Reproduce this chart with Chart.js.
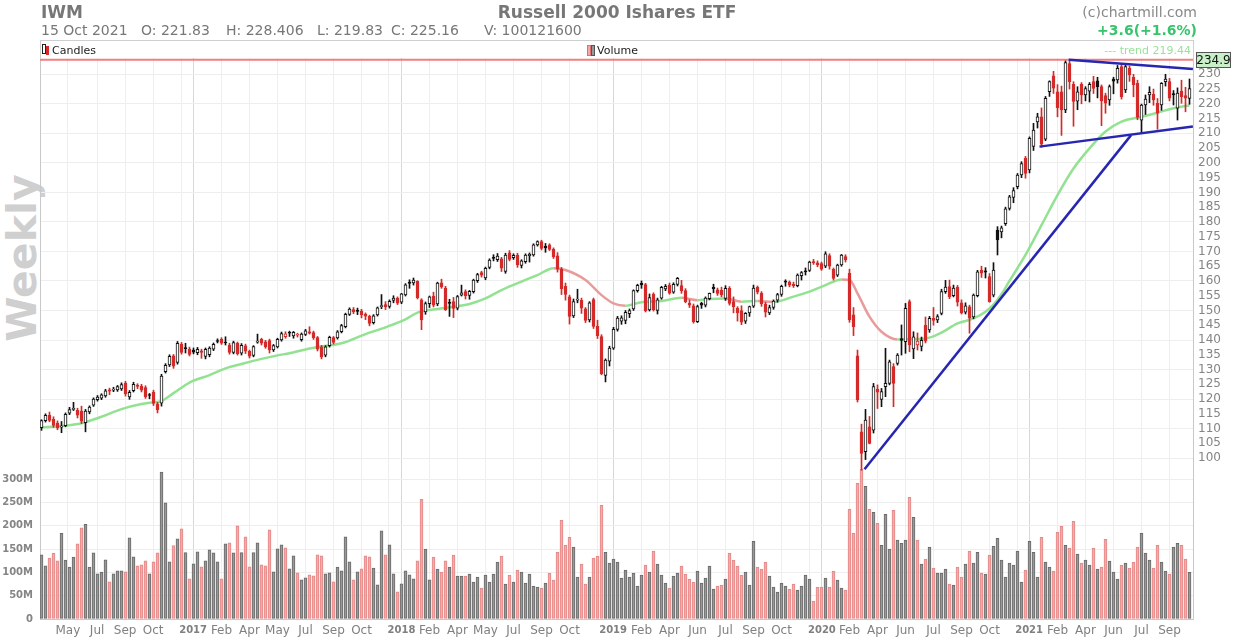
<!DOCTYPE html>
<html><head><meta charset="utf-8">
<script src="https://cdn.jsdelivr.net/npm/chart.js@4/dist/chart.umd.min.js"></script>
<style>
html,body{margin:0;padding:0;background:#fff;}
#wrap{position:relative;width:1234px;height:640px;font-family:"DejaVu Sans",sans-serif;overflow:hidden;background:#fff;}
#c{position:absolute;left:0;top:0;}
.t{position:absolute;white-space:pre;line-height:1;}
</style></head><body>
<div id="wrap">
<div class="t" style="left:22px;top:258px;transform:translate(-50%,-50%) rotate(-90deg);font-size:41px;font-weight:bold;color:#cfcfcf;">Weekly</div>
<canvas id="c" width="1234" height="640" style="width:1234px;height:640px"></canvas>
<div style="position:absolute;left:40px;top:40px;width:1152px;height:18px;border:1px solid #cfcfcf;border-bottom:none;"></div>
<div class="t" style="left:41px;top:4px;font-size:17px;font-weight:bold;color:#777">IWM</div>
<div class="t" style="left:41px;top:23px;font-size:14px;color:#777">15 Oct 2021</div>
<div class="t" style="left:141px;top:23px;font-size:14px;color:#777">O: 221.83</div>
<div class="t" style="left:226px;top:23px;font-size:14px;color:#777">H: 228.406</div>
<div class="t" style="left:317px;top:23px;font-size:14px;color:#777">L: 219.83</div>
<div class="t" style="left:391px;top:23px;font-size:14px;color:#777">C: 225.16</div>
<div class="t" style="left:484px;top:23px;font-size:14px;color:#777">V: 100121600</div>
<div class="t" style="left:0;width:1234px;text-align:center;top:4px;font-size:17px;font-weight:bold;color:#777">Russell 2000 Ishares ETF</div>
<div class="t" style="right:37px;top:5px;font-size:14px;color:#888">(c)chartmill.com</div>
<div class="t" style="right:37px;top:23px;font-size:14px;font-weight:bold;color:#37c46c">+3.6(+1.6%)</div>
<div style="position:absolute;left:42px;top:44px;width:2px;height:8px;border:1px solid #222;background:#fff;"></div>
<div style="position:absolute;left:46px;top:46px;width:3px;height:9px;background:#d42a2a;"></div>
<div class="t" style="left:52px;top:45px;font-size:11px;color:#222">Candles</div>
<div style="position:absolute;left:587px;top:45px;width:2px;height:9px;background:#f2a8a8;border:1px solid #e07070;"></div>
<div style="position:absolute;left:591px;top:45px;width:2px;height:9px;background:#999;border:1px solid #555;"></div>
<div class="t" style="left:597px;top:45px;font-size:11px;color:#222">Volume</div>
<div class="t" style="right:43px;top:45px;font-size:11px;color:#9ce09c">--- trend 219.44</div>
</div>
<script>
// ---- data (weekly, 15 Apr 2016 .. 15 Oct 2021) ----
const opens = [
110.3,112.7,114.6,113.1,111.9,110.5,111.0,115.2,116.5,116.2,
115.9,112.0,115.6,117.9,119.8,120.3,121.1,123.1,123.0,123.1,
123.4,125.4,120.7,122.8,124.7,124.4,123.9,121.4,122.4,118.4,
118.6,129.3,131.6,134.6,132.4,138.5,137.4,136.9,136.6,135.7,
136.3,134.4,135.0,136.9,139.8,140.2,139.2,138.3,135.8,138.9,
135.5,138.0,136.2,134.8,139.3,140.2,139.4,139.8,136.6,137.7,
140.0,141.1,142.6,141.4,141.6,140.1,141.9,142.8,142.5,140.8,
137.7,134.9,138.1,140.8,140.7,142.8,144.5,148.7,150.3,150.0,
149.8,148.8,148.0,145.9,148.5,151.3,152.0,151.4,153.4,154.2,
152.8,155.3,159.6,159.3,159.9,153.6,149.5,152.3,154.9,152.2,
159.4,157.6,152.6,153.0,150.8,155.2,156.4,155.1,156.4,160.1,
162.8,161.0,164.6,168.0,167.2,167.5,163.2,169.5,167.9,168.8,
165.3,166.5,168.6,168.8,172.2,173.3,171.7,172.2,170.7,168.5,
164.0,158.2,154.6,148.2,153.5,153.4,150.6,146.8,153.7,144.6,
141.2,128.0,132.8,137.2,143.6,146.4,146.6,148.9,150.5,156.7,
159.2,158.8,150.2,155.5,150.0,154.2,157.3,158.6,156.2,158.8,
158.4,156.7,152.5,151.6,146.2,152.4,151.8,154.0,157.8,157.0,
156.9,154.1,157.5,153.0,150.7,150.0,146.4,149.2,151.5,157.8,
155.8,152.2,149.2,151.0,153.5,155.4,159.8,159.6,158.9,158.4,
161.8,163.3,163.6,166.6,166.1,165.9,165.0,168.6,163.9,162.0,
165.4,168.3,162.6,148.5,134.6,108.9,102.2,110.6,109.5,123.4,
119.9,124.2,125.3,131.0,132.1,140.5,139.4,153.0,137.0,138.3,
137.8,145.0,143.4,147.3,146.8,149.0,156.4,158.1,155.0,157.8,
152.6,149.4,151.2,147.8,155.0,163.7,163.4,161.5,155.2,177.2,
176.6,179.4,184.6,188.3,191.9,195.9,201.5,197.6,205.6,213.9,
215.6,208.0,224.1,229.5,224.1,224.1,217.9,233.6,226.6,220.9,
226.6,223.0,224.3,227.5,227.8,225.8,222.8,221.3,228.4,228.1,
232.6,224.7,232.0,229.0,226.9,214.5,219.6,223.0,223.2,220.2,
219.6,227.5,227.5,223.5,218.5,224.3,222.8,221.83];
const highs = [
113.0,115.0,115.6,114.0,112.6,112.4,115.3,117.2,118.9,116.9,
117.6,116.5,117.7,120.4,121.2,121.8,123.3,123.7,124.0,124.6,
125.5,126.0,122.9,125.7,125.2,125.0,124.5,121.9,123.0,118.9,
128.4,132.0,135.0,135.1,139.5,139.2,138.9,137.6,137.3,137.5,
136.9,137.3,137.7,139.0,140.4,140.8,141.1,138.9,139.6,139.3,
138.8,138.6,136.6,138.1,142.0,140.6,139.9,140.3,138.5,140.6,
142.7,142.8,143.0,142.9,142.3,142.4,143.6,144.5,143.0,141.2,
138.2,138.1,141.3,141.2,143.2,145.3,149.1,150.9,151.0,150.8,
150.4,149.2,148.4,148.6,151.2,155.4,153.0,153.6,155.0,154.6,
155.8,159.1,160.4,161.0,160.1,154.0,152.9,154.9,156.2,159.6,
160.6,158.2,153.8,154.4,155.1,158.6,157.0,156.8,160.6,162.6,
163.3,164.7,167.5,168.9,169.3,168.0,169.4,170.3,169.2,169.4,
167.2,169.2,169.5,172.6,173.6,173.8,172.7,172.6,171.2,169.6,
164.6,159.3,155.2,153.9,157.2,154.2,151.0,153.0,154.2,146.7,
141.8,133.6,137.9,144.3,148.0,148.2,150.0,150.5,157.0,158.9,
160.0,159.2,155.6,156.0,154.2,158.2,158.8,159.3,159.4,161.2,
160.2,157.4,153.6,152.2,151.8,152.8,154.6,155.9,158.9,157.6,
157.9,158.4,158.1,154.6,151.3,151.6,149.3,151.5,158.6,158.3,
156.4,152.8,151.8,153.6,155.8,158.6,160.4,160.0,159.6,162.4,
163.2,164.4,166.7,167.3,166.8,166.4,169.9,169.2,164.4,165.7,
169.0,168.9,164.0,151.0,136.6,111.5,116.5,114.1,125.3,124.8,
123.6,137.2,133.2,132.0,135.4,145.1,152.4,153.6,142.8,142.4,
141.0,147.8,148.0,151.0,148.6,157.2,160.2,160.3,158.6,158.5,
153.6,152.6,151.8,155.6,163.6,165.0,164.5,162.5,166.2,178.4,
178.6,185.0,189.0,191.6,196.4,200.4,202.2,208.8,213.4,216.8,
218.6,222.5,227.8,231.0,226.5,226.0,234.9,234.4,227.5,225.8,
227.2,225.8,227.2,229.3,229.0,226.4,223.6,226.4,229.0,233.0,
233.4,233.4,232.8,230.0,228.0,219.9,223.0,225.8,225.0,221.8,
227.2,230.0,228.6,224.5,225.4,228.0,225.6,228.406];
const lows = [
109.4,112.2,112.3,110.4,109.6,108.6,110.6,114.7,116.1,113.6,
111.7,108.9,115.0,117.5,119.3,119.8,120.6,121.5,122.5,122.6,
122.9,121.0,119.9,122.4,123.5,122.4,120.2,120.1,117.8,115.3,
117.6,128.8,131.0,130.4,131.8,135.2,135.6,134.6,135.3,135.0,
133.8,133.6,134.3,136.4,139.0,138.5,138.3,135.2,135.3,134.9,
134.9,135.4,133.9,134.3,138.9,138.3,137.2,135.6,136.1,137.3,
139.6,140.6,141.2,140.6,141.0,139.6,141.5,142.0,140.2,136.3,
133.6,134.3,137.6,138.6,140.3,142.4,144.1,148.3,148.9,148.6,
147.5,146.9,144.8,145.4,148.1,150.6,150.3,150.8,152.6,152.0,
152.3,154.9,157.5,158.6,153.9,143.5,148.7,151.0,151.2,151.6,
157.5,150.0,148.0,147.6,150.2,154.9,153.9,153.8,155.9,159.5,
161.3,160.4,164.1,166.8,166.6,163.2,162.6,166.8,167.3,164.6,
164.4,166.0,166.4,168.4,171.8,170.5,169.7,170.3,167.6,163.0,
155.4,153.5,145.4,147.6,152.6,149.0,145.9,146.1,143.9,140.5,
128.2,125.8,131.2,136.8,143.0,145.3,145.5,147.6,150.0,156.2,
157.5,149.5,149.8,149.8,148.8,153.8,156.7,155.5,155.8,158.3,
155.8,152.6,151.0,145.7,145.9,150.7,151.2,153.6,156.0,155.1,
154.6,153.4,151.8,149.2,146.4,145.2,145.6,148.0,151.0,155.6,
151.4,147.8,148.6,150.4,152.8,154.8,158.2,158.0,157.8,158.0,
160.3,162.0,163.2,165.6,164.8,163.6,164.5,164.0,160.3,161.5,
165.0,166.4,146.0,141.5,119.0,95.9,99.5,104.8,108.5,116.8,
117.4,120.8,124.8,117.4,131.5,134.9,135.5,136.0,133.7,136.6,
136.3,139.0,142.6,145.0,145.9,148.5,155.8,154.0,154.6,151.5,
148.8,148.8,142.3,147.2,154.6,161.2,161.0,152.8,154.6,168.8,
174.6,178.8,184.0,186.5,191.2,195.0,194.8,196.6,204.2,211.8,
205.3,207.5,222.5,223.5,215.6,209.3,217.0,225.0,212.4,218.0,
220.0,221.0,220.6,223.5,222.0,212.6,216.8,219.5,223.4,227.0,
221.6,223.8,227.6,222.4,214.6,210.0,216.4,220.4,219.5,211.4,
217.8,226.0,221.0,219.6,214.5,220.2,217.3,219.83];
const closes = [
112.7,114.5,112.8,111.1,110.2,110.8,114.8,116.4,116.7,114.5,
112.5,115.9,117.3,120.0,120.7,121.4,122.8,122.7,123.4,124.2,
124.9,121.7,122.3,125.0,124.3,123.0,120.8,121.2,118.5,116.3,
127.8,131.4,134.5,131.1,138.9,135.8,137.1,135.1,135.9,136.8,
135.8,136.8,137.3,138.5,139.5,138.9,139.0,135.8,139.1,135.4,
138.2,136.2,134.5,137.8,139.6,138.9,137.7,136.6,138.1,140.2,
142.2,142.1,142.3,142.6,141.9,142.0,143.1,142.3,140.8,136.9,
134.3,137.7,140.9,139.2,142.8,144.9,148.7,150.5,149.5,149.7,
148.6,148.1,145.6,148.2,150.9,151.5,151.2,153.1,154.2,152.5,
155.6,158.7,159.2,160.3,154.3,146.8,152.3,154.6,151.8,159.3,
158.0,150.3,152.4,150.7,154.7,156.0,155.0,156.5,160.3,162.2,
162.0,164.3,167.1,167.6,168.4,164.3,168.8,167.3,168.7,165.4,
166.8,168.8,169.0,172.2,173.3,171.0,171.2,170.7,168.2,164.0,
157.4,155.4,148.0,153.0,153.9,150.8,146.6,152.6,144.6,141.5,
128.6,133.2,137.3,143.6,147.4,147.5,149.4,150.0,156.7,158.5,
158.7,149.9,154.4,150.2,153.6,157.8,158.2,155.9,158.9,160.9,
156.7,153.0,151.8,146.2,151.3,151.8,154.2,155.8,157.4,155.8,
155.3,157.5,152.4,151.3,149.3,146.0,149.0,151.3,157.6,156.2,
152.2,149.4,151.0,153.2,155.4,158.2,159.6,158.6,158.4,162.0,
162.8,163.1,166.4,166.1,165.4,164.0,169.2,165.0,160.9,165.4,
168.8,167.1,146.8,144.5,119.7,101.6,112.9,105.0,124.2,122.3,
122.5,125.3,132.6,125.3,134.9,139.9,150.7,138.3,141.1,139.6,
139.9,139.6,147.3,146.6,147.9,156.4,157.9,154.7,157.6,152.8,
149.2,151.6,147.4,155.2,163.1,162.6,163.0,153.0,163.7,173.9,
178.0,184.4,188.5,190.6,195.9,199.8,196.4,208.3,211.1,215.6,
206.3,221.9,227.5,225.3,218.7,217.9,234.0,227.5,220.8,224.1,
223.0,225.2,226.6,225.2,225.8,221.0,220.2,225.8,227.7,232.0,
222.4,232.6,229.8,226.5,215.4,219.6,221.6,223.9,221.3,216.8,
226.9,228.4,221.9,223.0,223.6,222.4,221.9,225.16];
// volume in millions of shares
const volumes = [
137.8,114.2,130.7,141.4,124.9,184.2,126.4,111.4,132.8,161.4,
195.7,203.5,111.4,142.1,97.1,100.7,127.1,80.0,97.1,103.5,
103.5,101.4,174.2,133.5,114.2,116.4,124.9,97.1,122.8,142.1,
315.7,249.2,122.8,157.8,172.1,193.5,142.8,86.4,118.5,144.2,
112.1,124.9,148.5,142.1,122.8,86.4,161.4,163.5,142.1,199.9,
142.8,176.4,112.1,142.8,163.5,116.4,114.2,191.4,101.4,150.7,
159.2,152.8,107.8,135.7,99.3,84.3,88.5,95.0,92.8,137.8,
135.7,97.1,99.3,80.0,111.4,103.5,176.4,122.8,84.3,101.4,
107.8,135.7,133.5,109.3,73.6,189.2,137.8,159.2,97.1,58.5,
75.6,103.4,94.9,86.3,124.9,257.0,149.9,84.2,132.7,107.0,
100.6,124.9,111.3,137.0,92.0,92.0,92.0,96.3,79.2,89.9,
66.3,94.2,79.2,96.3,122.0,134.9,74.9,94.2,79.2,104.9,
100.6,77.0,96.3,70.6,68.4,66.3,77.0,98.4,83.4,143.4,
212.0,158.4,175.6,154.2,89.9,117.7,74.9,89.9,130.6,134.9,
244.2,143.4,119.9,128.4,122.0,87.7,104.9,89.9,98.4,70.6,
94.2,115.6,100.6,145.6,117.7,94.2,77.0,66.3,92.0,98.4,
113.4,96.3,85.6,79.2,102.7,77.0,87.7,113.4,64.2,70.6,
72.7,85.6,141.3,126.3,113.4,94.2,100.6,72.7,167.0,111.3,
107.0,122.0,92.0,68.4,57.7,77.0,70.6,64.2,74.9,62.0,
70.6,94.2,85.6,38.4,68.4,68.4,87.7,68.4,102.7,83.4,
66.3,62.0,235.6,184.2,291.3,321.3,284.9,235.6,229.2,205.6,
158.4,224.9,149.9,233.4,169.2,162.7,169.2,261.3,218.4,169.2,
117.7,128.4,154.2,109.2,98.4,98.4,107.0,74.9,72.7,111.3,
89.9,117.7,145.6,119.9,143.4,98.4,96.3,137.0,156.3,173.4,
126.3,89.9,119.9,115.6,145.6,79.2,104.9,167.0,143.4,89.9,
175.6,122.0,111.3,102.7,186.3,199.2,158.4,152.0,209.9,139.2,
120.0,126.3,115.6,152.0,107.0,111.3,171.3,124.2,100.6,85.6,
115.6,119.9,109.2,122.0,154.2,184.2,141.3,126.3,109.2,158.4,
122.0,102.7,96.3,154.2,162.7,158.4,128.4,100.1];
// moving average (week index -> value)
const maWeeks = [0,5,10,15,20,25,28,30,33,37,42,46,50,55,59,62,66,70,75,81,86,91,94,99,103,107,111,115,120,124,128,131,136,140,143,146,150,155,160,164,167,171,175,179,183,188,192,196,200,202,204,207,210,214,219,222,225,229,233,236,238,240,242,246,250,254,258,262,266,270,275,279,283,287];
const maValues = [110.4,110.85,111.8,114.0,116.6,118.3,118.9,119.3,122.0,125.6,128.1,130.4,131.9,133.6,134.8,135.5,136.8,137.8,138.9,142.0,144.3,147.0,149.3,150.5,151.3,152.2,154.1,156.9,159.8,162.0,164.3,163.7,160.3,155.2,152.4,151.6,152.8,153.2,154.3,153.5,153.9,154.1,153.0,153.2,152.9,154.7,156.4,158.6,160.5,160.3,155.8,147.9,142.8,140.2,140.3,140.8,142.5,145.6,147.3,149.6,152.0,155.5,160.0,168.8,178.9,189.1,198.1,204.9,210.6,214.0,215.6,217.0,218.5,219.44];
// trend lines: [startWeek, startPrice, endWeek, endPrice]
const trendSupport = [205.75, 96.2, 272.4, 209.4];
const wedgeLower = [249.5, 205.5, 287.85, 212.3];
const wedgeUpper = [256.8, 234.9, 287.85, 231.8];
const maxHigh = 234.9;
// x-axis ticks (week index) and labels
const tickWeeks  = [6.6,13.9,20.9,27.9,35.0,37.9,45.0,52.0,59.0,66.0,73.0,80.0,86.8,90.0,97.0,104.0,111.0,118.0,125.0,132.0,139.0,142.9,150.0,157.0,164.0,171.0,178.0,185.0,192.0,195.1,202.0,209.0,216.0,223.0,230.0,237.0,244.0,246.9,254.0,261.0,268.0,275.0,282.0];
const tickLabels = ['May','Jul','Sep','Oct','','2017','Feb','Apr','May','Jul','Sep','Oct','','2018','Feb','Apr','May','Jul','Sep','Oct','','2019','Feb','Apr','Jun','Jul','Sep','Oct','','2020','Feb','Apr','Jun','Jul','Sep','Oct','','2021','Feb','Apr','Jun','Jul','Sep'];
const priceTicks = [100,105,110,115,120,125,130,135,140,145,150,155,160,165,170,175,180,185,190,195,200,205,210,215,220,225,230];
const volumeTicks = [0,50,100,150,200,250,300];

// ---- build ----
const RED = '#d42a2a';
const isUp = i => i === 0 || closes[i] >= closes[i-1];
const edgeCol = closes.map((c,i) => isUp(i) ? '#111111' : RED);
const fillCol = closes.map((c,i) => c > opens[i] ? '#ffffff' : (isUp(i) ? '#111111' : RED));
const wickData = lows.map((l,i) => ({x:i, y:[l, highs[i]]}));
const bodyData = opens.map((o,i) => ({x:i, y:[Math.min(o,closes[i]), Math.max(o,closes[i])]}));
const volData = volumes.map((v,i) => ({x:i, y:v}));
const volFill = closes.map((c,i) => isUp(i) ? 'rgba(152,152,152,0.9)' : 'rgba(244,168,168,0.9)');
const volEdge = closes.map((c,i) => isUp(i) ? '#6a6a6a' : '#e48888');
const maData = maWeeks.map((w,k) => ({x:w, y:maValues[k]}));
const seg = a => [{x:a[0], y:a[1]}, {x:a[2], y:a[3]}];
const tickMap = {}; tickWeeks.forEach((w,k) => tickMap[w.toFixed(1)] = tickLabels[k]);
const isYearLabel = s => /^\d{4}$/.test(s || '');
const XMIN = -0.375, XMAX = 287.875;

const labelBox = {
  id: 'labelBox',
  afterDraw(chart) {
    const {ctx, chartArea} = chart;
    const y = Math.round(chart.scales.yp.getPixelForValue(maxHigh));
    ctx.save();
    ctx.fillStyle = '#c8efc8';
    ctx.fillRect(chartArea.right + 3, y - 8, 35, 16);
    ctx.strokeStyle = '#555'; ctx.lineWidth = 1;
    ctx.strokeRect(chartArea.right + 3.5, y - 7.5, 34, 15);
    ctx.fillStyle = '#111'; ctx.font = '12px "DejaVu Sans"';
    ctx.textAlign = 'center'; ctx.textBaseline = 'middle';
    ctx.fillText(maxHigh.toFixed(1), chartArea.right + 20.5, y + 0.5);
    ctx.restore();
  }
};

const lineBase = {type:'line', pointRadius:0, pointHoverRadius:0, fill:false, xAxisID:'x'};
new Chart(document.getElementById('c'), {
  type: 'bar',
  data: {
    datasets: [
      {type:'bar', data:volData, yAxisID:'yv', xAxisID:'x', backgroundColor:volFill, borderColor:volEdge, borderWidth:1, borderSkipped:false, barThickness:3, grouped:false, order:10},
      Object.assign({}, lineBase, {data:maData, yAxisID:'yp', borderWidth:2.5, borderColor:'#8ee08e', cubicInterpolationMode:'monotone',
        segment:{borderColor: c => c.p1.parsed.y >= c.p0.parsed.y ? 'rgba(140,224,140,0.95)' : 'rgba(232,150,150,0.95)'}, order:7}),
      {type:'bar', data:wickData, yAxisID:'yp', xAxisID:'x', backgroundColor:edgeCol, borderWidth:0, barThickness:1, grouped:false, minBarLength:1, order:5},
      {type:'bar', data:bodyData, yAxisID:'yp', xAxisID:'x', backgroundColor:fillCol, borderColor:edgeCol, borderWidth:1, borderSkipped:false, barThickness:3, grouped:false, minBarLength:1, order:4},
      Object.assign({}, lineBase, {data:[{x:XMIN,y:maxHigh},{x:XMAX,y:maxHigh}], yAxisID:'yp', borderWidth:2, borderColor:'#f07f7f', order:3}),
      Object.assign({}, lineBase, {data:seg(trendSupport), yAxisID:'yp', borderWidth:2.5, borderColor:'#2626b0', order:2}),
      Object.assign({}, lineBase, {data:seg(wedgeLower), yAxisID:'yp', borderWidth:2.5, borderColor:'#2626b0', order:2}),
      Object.assign({}, lineBase, {data:seg(wedgeUpper), yAxisID:'yp', borderWidth:2.5, borderColor:'#2626b0', order:2})
    ]
  },
  options: {
    responsive:false, animation:false, devicePixelRatio:1,
    layout:{padding:{top:58, left:0, right:0, bottom:0}},
    plugins:{legend:{display:false}, tooltip:{enabled:false}},
    scales:{
      x:{type:'linear', min:XMIN, max:XMAX, offset:false,
        afterBuildTicks: s => { s.ticks = tickWeeks.map(v => ({value:v})); },
        afterFit: s => { s.height = 21; },
        grid:{offset:false, drawTicks:false, color: c => (c.tick && isYearLabel(tickMap[c.tick.value.toFixed(1)])) ? '#d8d8d8' : '#eeeeee'},
        border:{display:true, color:'#c8c8c8'},
        ticks:{autoSkip:false, maxRotation:0, minRotation:0, padding:5, color:'#808080',
          font: c => { const yr = c.tick && isYearLabel(tickMap[c.tick.value.toFixed(1)]); return {family:'"DejaVu Sans"', size: yr ? 10 : 12, weight: yr ? 'bold' : 'normal'}; },
          callback: v => tickMap[Number(v).toFixed(1)] || ''}
      },
      yp:{type:'linear', position:'right', min:45.5, max:235.52,
        afterBuildTicks: s => { s.ticks = priceTicks.map(v => ({value:v})); },
        afterFit: s => { s.width = 41; },
        grid:{drawTicks:false, color: c => (c.tick && c.tick.value % 10 === 0) ? '#eeeeee' : 'rgba(0,0,0,0)'},
        border:{display:true, color:'#c8c8c8'},
        ticks:{padding:5, color:'#858585', font:{family:'"DejaVu Sans"', size:12}, callback: v => String(v)}
      },
      yv:{type:'linear', position:'left', min:0, max:1204.6,
        afterBuildTicks: s => { s.ticks = volumeTicks.map(v => ({value:v})); },
        afterFit: s => { s.width = 40; },
        grid:{drawTicks:false, color:'#eeeeee'},
        border:{display:true, color:'#c8c8c8'},
        ticks:{padding:7, color:'#858585', font:{family:'"DejaVu Sans"', size:10, weight:'bold'}, callback: v => v === 0 ? '0' : v + 'M'}
      }
    }
  },
  plugins:[labelBox]
});
</script>
</body></html>
